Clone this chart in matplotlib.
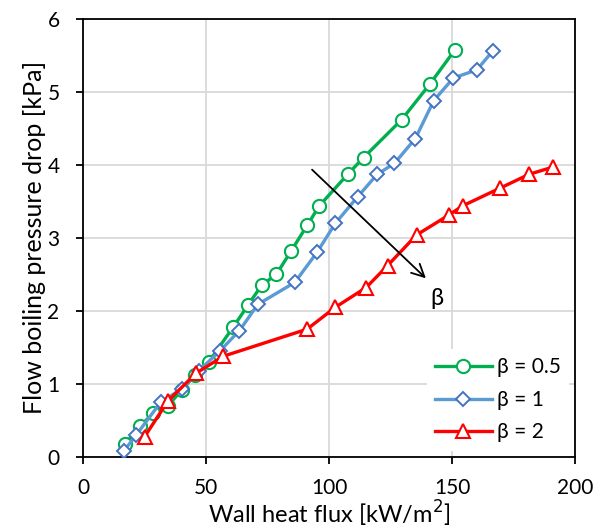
import matplotlib
matplotlib.use("Agg")
import matplotlib.pyplot as plt

x_b05 = [17, 23, 28.5, 34.5, 40, 45.5, 51, 61, 67, 72.5, 78.5, 84.5, 91, 96, 107.5, 114, 129.5, 141, 151]
y_b05 = [0.18, 0.42, 0.60, 0.70, 0.92, 1.12, 1.30, 1.78, 2.08, 2.35, 2.50, 2.82, 3.17, 3.44, 3.87, 4.10, 4.62, 5.11, 5.57]

x_b1 = [16.5, 21.5, 31.5, 40, 47, 55.5, 63.5, 71, 86, 95, 102.5, 111.5, 119.5, 126.5, 135, 142.5, 150.5, 160, 166.5]
y_b1 = [0.08, 0.30, 0.75, 0.93, 1.18, 1.45, 1.73, 2.09, 2.39, 2.80, 3.20, 3.56, 3.87, 4.02, 4.36, 4.88, 5.19, 5.30, 5.56]

x_b2 = [25, 34.5, 46, 57, 91, 102.5, 115, 123.7, 135.5, 148.5, 154.3, 169.4, 181.2, 191]
y_b2 = [0.28, 0.77, 1.15, 1.38, 1.75, 2.05, 2.32, 2.62, 3.04, 3.31, 3.44, 3.68, 3.87, 3.97]

labels = ["β = 0.5", "β = 1", "β = 2"]
xticks = [0, 50, 100, 150, 200]
yticks = [0, 1, 2, 3, 4, 5, 6]

plt.rcParams['font.family'] = ['Lato', 'DejaVu Sans']
fig = plt.figure(figsize=(6.03, 5.28), dpi=100)
ax = fig.add_axes([0.138, 0.1345, 0.816, 0.83])

ax.plot(x_b05, y_b05, color='#00B050', lw=2.4, marker='o', ms=9.5, mfc='white',
        mec='#00B050', mew=1.5, label=labels[0], zorder=3)
ax.plot(x_b1, y_b1, color='#5B9BD5', lw=2.4, marker='D', ms=7.2, mfc='white',
        mec='#4472C4', mew=1.4, label=labels[1], zorder=3)
ax.plot(x_b2, y_b2, color='#FF0000', lw=2.4, marker='^', ms=10, mfc='white',
        mec='#FF0000', mew=1.5, label=labels[2], zorder=3)

ax.annotate('', xy=(140.1, 2.42), xytext=(92.2, 3.96),
            arrowprops=dict(arrowstyle='->,head_length=0.9,head_width=0.45', color='black', lw=1.3),
            zorder=4)
ax.text(143.7, 2.17, 'β', fontsize=17, ha='center', va='center')

ax.set_xlim(0, 200)
ax.set_ylim(0, 6)
ax.set_xticks(xticks)
ax.set_yticks(yticks)
ax.grid(True, color='#D9D9D9', lw=1.3)
ax.set_axisbelow(True)
for s in ax.spines.values():
    s.set_color('black')
    s.set_linewidth(1.3)
ax.tick_params(direction='out', length=5, width=1.3, labelsize=15)
ax.tick_params(axis='x', pad=10)
ax.tick_params(axis='y', pad=12)
ax.set_xlabel('Wall heat flux [kW/m$^2$]', fontsize=17, labelpad=1)
ax.set_ylabel('Flow boiling pressure drop [kPa]', fontsize=18, labelpad=1)

leg = ax.legend(loc='lower right', prop={'size': 15},
                frameon=True, fancybox=False,
                edgecolor='none', facecolor='white', framealpha=1,
                handlelength=2.7, borderaxespad=0.3, labelspacing=0.6, handletextpad=0.25)

fig.savefig('out.png', dpi=100)
